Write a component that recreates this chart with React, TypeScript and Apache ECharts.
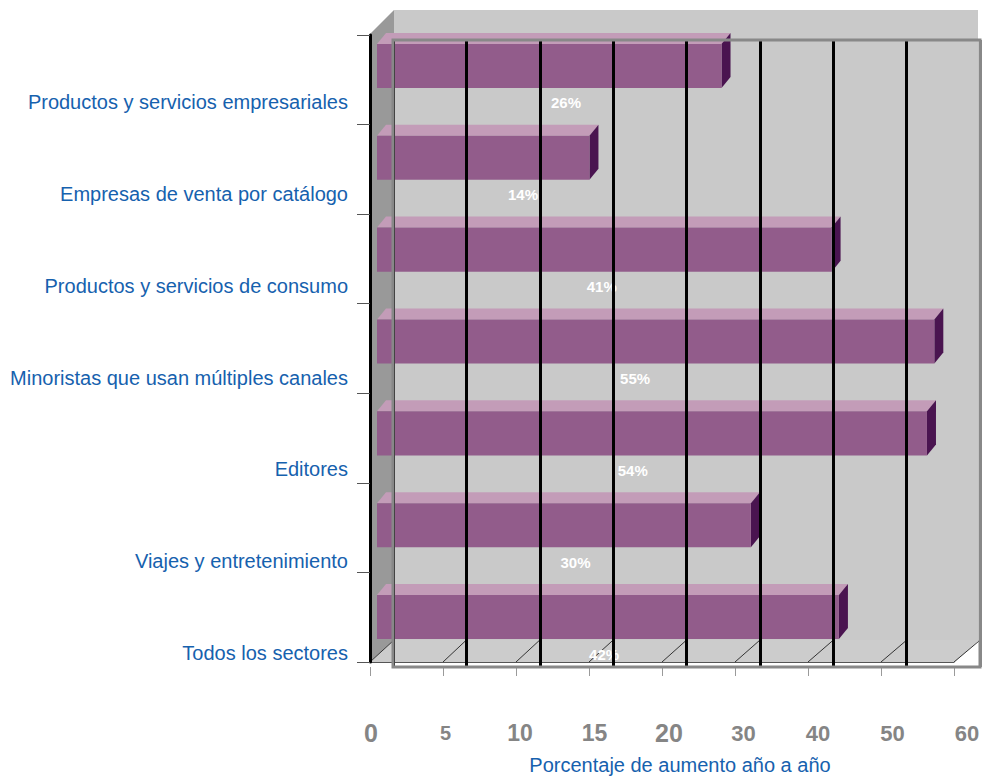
import React, { useEffect, useRef } from "react";
import * as echarts from "echarts";

// ---- data ----
const categories: string[] = [
  "Productos y servicios empresariales",
  "Empresas de venta por catálogo",
  "Productos y servicios de consumo",
  "Minoristas que usan múltiples canales",
  "Editores",
  "Viajes y entretenimiento",
  "Todos los sectores",
];
const values: number[] = [26, 14, 41, 55, 54, 30, 42];
const tickLabels: number[] = [0, 5, 10, 15, 20, 30, 40, 50, 60];

// ---- style constants ----
const FONT = '"Liberation Sans", Arial, Helvetica, sans-serif';
const tickFontSizes = [25, 20, 23, 23, 25, 22, 22, 22, 22];
const BLUE = "#1661ae";

// position on the (unevenly labelled) value axis: each labelled step takes one unit
function toAxis(v: number): number {
  for (let i = 0; i < tickLabels.length - 1; i++) {
    if (v <= tickLabels[i + 1]) {
      return i + (v - tickLabels[i]) / (tickLabels[i + 1] - tickLabels[i]);
    }
  }
  return tickLabels.length - 1;
}

const STEPS = tickLabels.length - 1;

export default function App() {
  const ref = useRef<HTMLDivElement>(null);
  useEffect(() => {
    if (!ref.current) return;
    const chart = echarts.init(ref.current, null, { renderer: "svg" });

    const rich: Record<string, any> = {};
    tickLabels.forEach((_, i) => {
      rich["s" + i] = {
        fontSize: tickFontSizes[i],
        fontWeight: "bold",
        color: "#858585",
        fontFamily: FONT,
      };
    });

    const barData = values.map((v, i) => [toAxis(v), i, v]);

    const gridlineColors = tickLabels.map((_, i) => (i === STEPS ? "#888888" : "#000000"));

    const option: any = {
      animation: false,
      textStyle: { fontFamily: FONT },
      grid: [
        // 0: back plane gridlines
        { left: 393, right: 4, top: 40, bottom: 109, containLabel: false },
        // 1: front plane (y axis line + ticks, floor edge)
        { left: 370, right: 30, top: 35, bottom: 114, containLabel: false },
        // 2: bars
        { left: 393, right: 4, top: 20, bottom: 113, containLabel: false },
        // 3: value labels
        { left: 371, right: 17, top: 600, bottom: 114, containLabel: false },
        // 4: category labels (sit below each bar)
        { left: 393, right: 4, top: 56, bottom: 77, containLabel: false },
      ],
      xAxis: [
        {
          gridIndex: 0,
          type: "value",
          min: 0,
          max: STEPS,
          interval: 1,
          z: 5,
          axisLine: { show: false },
          axisTick: { show: false },
          axisLabel: { show: false },
          splitLine: { show: true, lineStyle: { color: gridlineColors, width: 3 } },
        },
        {
          gridIndex: 1,
          type: "value",
          min: 0,
          max: STEPS,
          interval: 1,
          z: 4,
          axisLine: { show: true, lineStyle: { color: "#555555", width: 1 } },
          axisTick: { show: false },
          axisLabel: { show: false },
          splitLine: { show: false },
        },
        {
          gridIndex: 2,
          type: "value",
          min: 0,
          max: STEPS,
          interval: 1,
          show: false,
        },
        {
          gridIndex: 3,
          type: "value",
          min: 0,
          max: STEPS,
          interval: 1,
          axisLine: { show: false },
          axisTick: { show: false },
          splitLine: { show: false },
          axisLabel: {
            show: true,
            margin: 71,
            verticalAlign: "middle",
            formatter: (val: number) => {
              const i = Math.round(val);
              return `{s${i}|${tickLabels[i]}}`;
            },
            rich,
          },
          name: "Porcentaje de aumento año a año",
          nameLocation: "middle",
          nameGap: 93,
          nameTextStyle: {
            color: BLUE,
            fontSize: 20,
            fontFamily: FONT,
            padding: [0, 0, 0, 22],
          },
        },
        {
          gridIndex: 1,
          type: "value",
          min: 0,
          max: STEPS,
          interval: 1,
          position: "bottom",
          offset: 5,
          axisLine: { show: false },
          axisTick: { show: true, length: 9, lineStyle: { color: "#9a9a9a", width: 1 } },
          axisLabel: { show: false },
          splitLine: { show: false },
        },
        {
          gridIndex: 4,
          type: "value",
          min: 0,
          max: STEPS,
          show: false,
        },
      ],
      yAxis: [
        { gridIndex: 0, type: "value", show: false },
        {
          gridIndex: 1,
          type: "category",
          data: categories,
          inverse: true,
          z: 6,
          axisLine: { show: true, lineStyle: { color: "#000000", width: 3 } },
          axisTick: { show: true, length: 13, lineStyle: { color: "#555555", width: 1 } },
          axisLabel: { show: false },
          splitLine: { show: false },
        },
        {
          gridIndex: 2,
          type: "category",
          data: categories,
          inverse: true,
          show: false,
        },
        { gridIndex: 3, type: "value", show: false },
        {
          gridIndex: 4,
          type: "category",
          data: categories,
          inverse: true,
          axisLine: { show: false },
          axisTick: { show: false },
          splitLine: { show: false },
          axisLabel: {
            show: true,
            margin: 45,
            color: BLUE,
            fontSize: 20,
            fontFamily: FONT,
          },
        },
      ],
      graphic: [
        {
          type: "rect",
          z: 0,
          shape: { x: 394, y: 10, width: 584, height: 630 },
          style: { fill: "#c9c9c9" },
        },
        {
          type: "polygon",
          z: 0,
          shape: { points: [[370, 34], [394, 10], [394, 640], [370, 662]] },
          style: { fill: "#999999" },
        },
        {
          type: "polygon",
          z: 0,
          shape: { points: [[370, 662], [394, 640], [979, 640], [955, 662]] },
          style: { fill: "#cccccc" },
        },
        ...Array.from({ length: STEPS }, (_, k) => ({
          type: "line",
          z: 1,
          shape: {
            x1: 393 + 73.4 * (k + 1),
            y1: 640,
            x2: 370 + 73 * (k + 1),
            y2: 662,
          },
          style: { stroke: "#333333", lineWidth: 1 },
        })),
        {
          type: "line",
          z: 1,
          shape: { x1: 394, y1: 640, x2: 370, y2: 662 },
          style: { stroke: "#333333", lineWidth: 1 },
        },
        {
          type: "rect",
          z: 6,
          shape: { x: 393, y: 40, width: 587, height: 627 },
          style: { fill: "none", stroke: "#888888", lineWidth: 3 },
        },
      ],
      series: [
        {
          type: "custom",
          xAxisIndex: 2,
          yAxisIndex: 2,
          z: 2,
          data: barData,
          renderItem: (params: any, api: any) => {
            const t = api.value(0);
            const ci = api.value(1);
            const v = api.value(2);
            const end = api.coord([t, ci]);
            const start = api.coord([0, ci]);
            const band = api.size([0, 1])[1];
            const h = band * 0.48;
            const dx = 9;
            const dy = 11;
            const fy1 = end[1] - h / 2;
            const fy2 = end[1] + h / 2;
            const fx2 = end[0] - dx;
            const fx1 = start[0] - 16;
            const labelX = fx1 + 77 + 0.65 * ((fx2 - fx1) / 2);
            return {
              type: "group",
              children: [
                {
                  type: "polygon",
                  shape: {
                    points: [
                      [fx1, fy1],
                      [fx1 + dx, fy1 - dy],
                      [end[0], fy1 - dy],
                      [fx2, fy1],
                    ],
                  },
                  style: { fill: "#c39cb8" },
                },
                {
                  type: "polygon",
                  shape: {
                    points: [
                      [fx2, fy1],
                      [end[0], fy1 - dy],
                      [end[0], fy2 - dy],
                      [fx2, fy2],
                    ],
                  },
                  style: { fill: "#4a1450" },
                },
                {
                  type: "rect",
                  shape: { x: fx1, y: fy1, width: fx2 - fx1, height: h },
                  style: { fill: "#925c8b" },
                },
                {
                  type: "text",
                  style: {
                    text: v + "%",
                    x: labelX,
                    y: fy2 + 15,
                    align: "center",
                    verticalAlign: "middle",
                    fill: "#ffffff",
                    font: `bold 15px ${FONT}`,
                  },
                },
              ],
            };
          },
        },
      ],
    };

    chart.setOption(option);
    return () => chart.dispose();
  }, []);

  return (
    <div
      ref={ref}
      style={{ position: "absolute", left: 0, top: 0, width: 984, height: 776 }}
    />
  );
}
